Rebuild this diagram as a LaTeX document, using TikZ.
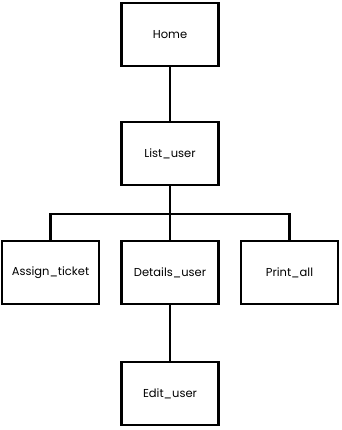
\documentclass[tikz,border=0pt]{standalone}
\usepackage{fontspec}
\setmainfont{Poppins}
\begin{document}
\begin{tikzpicture}[x=1pt,y=-1pt,
  screen/.style={draw=black, line width=2.8pt, fill=white,
    minimum width=97pt, minimum height=63pt, inner sep=0pt,
    font=\fontsize{11.5}{13}\selectfont, text=black},
  link/.style={draw=black, line width=2.2pt}]
  \useasboundingbox (0,0) rectangle (341,430);
  % pages of the site map
  \node[screen] (home)    at (170,34.5)  {Home};
  \node[screen] (list)    at (170,153.5) {List\_user};
  \node[screen] (assign)  at (50.5,272.5) {Assign\_ticket};
  \node[screen] (details) at (170,272.5) {Details\_user};
  \node[screen] (print)   at (289.5,272.5) {Print\_all};
  \node[screen] (edit)    at (170,393.5) {Edit\_user};
  % branch point below List_user
  \coordinate (fork) at (170,214);
  % links between pages
  \draw[link] (home.south) -- (list.north);
  \draw[link] (list.south) -- (fork);
  \draw[link] (fork) -| (assign.north);
  \draw[link] (fork) -| (print.north);
  \draw[link] (fork) -- (details.north);
  \draw[link] (details.south) -- (edit.north);
\end{tikzpicture}
\end{document}
